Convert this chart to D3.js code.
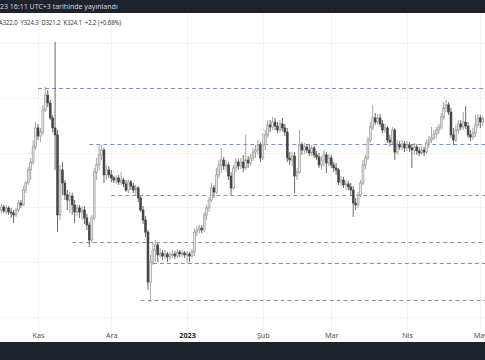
<!DOCTYPE html>
<html><head><meta charset="utf-8">
<script src="https://cdn.jsdelivr.net/npm/d3@7"></script>
<style>html,body{margin:0;padding:0;background:#fff;overflow:hidden}svg{display:block}</style>
</head><body>
<svg id="c" width="485" height="360"></svg>
<script>
// ---- data (BNB-like daily candles) ----
const startDate = Date.UTC(2022, 9, 17);
const open = [278.1,280.3,277.4,279.6,276.6,275.9,274.5,278.1,283.2,281.8,292.7,297.8,307.3,313.1,324.1,338.0,332.1,335.0,351.1,362.0,356.2,345.3,338.0,332.9,274.5,307.3,297.8,289.1,285.4,288.3,281.8,276.6,279.6,276.6,278.1,272.3,267.2,256.2,272.3,305.8,311.0,318.3,321.9,303.7,307.3,303.7,301.5,300.0,301.5,298.5,300.0,297.1,292.7,298.5,295.6,292.7,294.2,286.9,278.1,270.8,262.0,225.5,240.1,248.9,252.6,245.3,246.7,244.5,246.0,243.8,245.3,246.0,244.5,247.4,246.0,246.7,245.3,246.0,244.5,247.4,262.0,263.5,265.0,263.5,274.5,279.6,285.4,294.2,291.2,303.7,311.0,314.6,310.2,311.0,302.9,294.2,308.8,313.1,310.2,313.1,308.8,314.6,312.4,316.1,320.4,321.9,325.6,316.1,325.6,332.9,340.2,338.7,342.3,339.4,336.5,340.9,338.0,335.0,316.1,314.6,317.5,302.9,305.8,325.6,321.9,324.1,321.9,319.7,323.4,318.3,316.8,311.0,314.6,318.3,312.4,316.1,311.0,308.8,307.3,298.5,300.0,296.4,297.1,294.9,292.7,283.2,281.8,289.1,297.8,311.0,316.1,329.2,338.7,345.3,342.3,345.3,340.9,336.5,338.0,329.2,327.7,336.5,320.4,325.6,324.1,326.3,323.4,325.6,323.4,321.9,324.1,321.2,319.7,321.9,320.4,327.0,329.2,330.7,333.6,336.5,338.7,346.0,352.6,354.8,349.6,332.9,329.2,336.5,340.9,338.7,342.3,339.4,332.9,331.4,334.3,340.2,345.3,342.3];
const high = [282.5,281.8,281.8,281.0,279.6,278.1,279.6,285.4,285.4,295.6,299.3,309.5,316.1,329.2,342.3,340.9,338.0,354.8,367.9,365.7,358.4,347.5,400.7,336.5,311.0,313.1,300.0,292.7,291.2,290.5,285.4,281.8,281.8,281.0,281.0,275.2,269.3,274.5,308.8,316.1,325.6,325.6,323.4,311.0,310.2,307.3,302.9,303.7,303.7,305.8,301.5,300.0,300.0,300.0,297.8,296.4,295.6,288.3,281.0,273.7,263.5,245.3,254.0,256.2,254.0,250.4,248.9,248.9,247.4,247.4,248.9,248.2,249.6,248.9,248.9,248.2,248.2,247.4,249.6,264.2,266.4,267.2,267.2,276.6,281.8,287.6,297.8,296.4,308.8,314.6,323.4,316.8,314.6,313.1,305.8,311.0,316.1,315.3,316.1,318.3,332.9,317.5,319.0,323.4,325.6,329.2,327.7,334.3,336.5,343.8,343.8,346.0,345.3,342.3,343.8,345.3,340.9,338.0,320.4,320.4,320.4,308.8,336.5,327.7,327.0,326.3,325.6,325.6,324.8,321.2,319.7,317.5,321.9,320.4,319.0,318.3,313.1,312.4,308.8,302.9,302.2,300.0,299.3,297.8,295.6,286.9,291.2,300.0,314.6,318.3,331.4,342.3,354.8,348.9,348.2,348.2,343.8,340.9,339.4,332.9,338.7,338.0,329.2,328.5,329.2,328.5,328.5,327.7,326.3,327.0,326.3,324.1,324.8,324.1,329.2,332.1,338.7,336.5,338.7,340.9,348.9,356.9,358.4,356.9,352.6,338.0,340.2,343.8,343.8,349.6,354.0,342.3,336.5,338.0,347.5,348.2,347.5,346.7];
const low = [275.9,275.9,275.2,274.5,272.3,268.6,273.0,276.6,279.6,281.0,290.5,296.4,300.0,311.0,321.9,329.2,327.7,332.9,349.6,353.3,343.8,335.0,307.3,262.0,270.8,289.1,285.4,278.1,275.9,274.5,268.6,273.7,272.3,270.8,267.9,263.5,251.1,254.0,270.8,300.0,307.3,314.6,297.8,300.0,301.5,298.5,297.8,297.1,296.4,296.4,294.9,291.2,290.5,292.7,290.5,289.1,283.9,276.6,267.9,258.4,219.7,210.9,238.0,240.1,240.1,243.1,241.6,242.3,240.1,241.6,243.1,242.3,243.1,243.8,243.8,243.1,239.4,240.1,243.1,244.5,259.1,260.6,261.3,262.0,270.8,276.6,283.9,286.9,289.8,301.5,305.1,307.3,305.8,300.0,289.1,292.7,305.8,307.3,308.0,305.8,307.3,308.8,310.2,313.9,316.1,318.3,313.1,314.6,321.9,330.7,335.0,336.5,336.5,334.3,335.0,335.8,332.1,313.1,311.0,310.2,290.5,300.0,304.4,318.3,319.0,319.7,317.5,317.5,316.1,314.6,308.8,307.3,309.5,305.1,310.2,308.8,305.8,303.7,296.4,295.6,294.2,292.7,292.7,289.1,273.0,278.1,279.6,287.6,296.4,308.0,314.6,327.0,336.5,340.2,340.2,338.7,334.3,334.3,327.0,324.8,325.6,314.6,318.3,321.9,321.9,320.4,321.2,320.4,308.8,318.3,318.3,317.5,318.3,317.5,319.0,323.4,327.0,329.2,330.7,333.6,336.5,343.8,349.6,347.5,330.7,325.6,327.7,333.6,336.5,336.5,337.2,330.7,328.5,329.2,331.4,338.0,338.0,339.4];
const close = [280.3,277.4,279.6,276.6,275.9,274.5,278.1,283.2,281.8,292.7,297.8,307.3,313.1,324.1,338.0,332.1,335.0,351.1,362.0,356.2,345.3,338.0,332.9,274.5,307.3,297.8,289.1,285.4,288.3,281.8,276.6,279.6,276.6,278.1,272.3,267.2,256.2,272.3,305.8,311.0,318.3,321.9,303.7,307.3,303.7,301.5,300.0,301.5,298.5,300.0,297.1,292.7,298.5,295.6,292.7,294.2,286.9,278.1,270.8,262.0,225.5,240.1,248.9,252.6,245.3,246.7,244.5,246.0,243.8,245.3,246.0,244.5,247.4,246.0,246.7,245.3,246.0,244.5,247.4,262.0,263.5,265.0,263.5,274.5,279.6,285.4,294.2,291.2,303.7,311.0,314.6,310.2,311.0,302.9,294.2,308.8,313.1,310.2,313.1,308.8,314.6,312.4,316.1,320.4,321.9,325.6,316.1,325.6,332.9,340.2,338.7,342.3,339.4,336.5,340.9,338.0,335.0,316.1,314.6,317.5,302.9,305.8,325.6,321.9,324.1,321.9,319.7,323.4,318.3,316.8,311.0,314.6,318.3,312.4,316.1,311.0,308.8,307.3,298.5,300.0,296.4,297.1,294.9,292.7,283.2,281.8,289.1,297.8,311.0,316.1,329.2,338.7,345.3,342.3,345.3,340.9,336.5,338.0,329.2,327.7,336.5,320.4,325.6,324.1,326.3,323.4,325.6,323.4,321.9,324.1,321.2,319.7,321.9,320.4,327.0,329.2,330.7,333.6,336.5,338.7,346.0,352.6,354.8,349.6,332.9,329.2,336.5,340.9,338.7,342.3,339.4,332.9,331.4,334.3,340.2,345.3,342.3,344.5];

const monthTicks = [Date.UTC(2022,10,1),Date.UTC(2022,11,1),Date.UTC(2023,0,1),Date.UTC(2023,1,1),Date.UTC(2023,2,1),Date.UTC(2023,3,1),Date.UTC(2023,4,1)];
const monthLabels = ["Kas","Ara","2023","Şub","Mar","Nis","May"];
const priceTicks = [200,240,280,320,360,400];
const levelPrices = [367.2,326.3,289.0,254.7,239.4,212.4];
const levelStarts = [Date.UTC(2022,10,1),Date.UTC(2022,10,22),Date.UTC(2022,11,1),Date.UTC(2022,10,15),Date.UTC(2022,11,18),Date.UTC(2022,11,13)];
const headerText = "23 16:11 UTC+3 tarihinde yayınlandı";
const ohlcText = "A322.0  Y324.3  D321.2  K324.1  +2.2 (+0.68%)";

// ---- drawing ----
const W = 485, H = 360;
const svg = d3.select("#c");
const font = "'Noto Sans', 'Liberation Sans', sans-serif";

const x = d3.scaleUtc().domain([monthTicks[0], monthTicks[5]]).range([38, 407]);
const y = d3.scaleLinear().domain([200, 400]).range([317, 43]);

const candles = close.map((c, i) => ({
  date: d3.utcDay.offset(new Date(startDate), i),
  o: open[i], h: high[i], l: low[i], c: c
}));

svg.append("rect").attr("width", W).attr("height", H).attr("fill", "#fff");

// grid
const grid = svg.append("g");
grid.selectAll("line.v").data(monthTicks).join("line")
  .attr("x1", d => Math.round(x(d)) + 0.5).attr("x2", d => Math.round(x(d)) + 0.5)
  .attr("y1", 13).attr("y2", 342).attr("stroke", "#f1f3f7").attr("stroke-width", 1);
grid.selectAll("line.h").data(priceTicks).join("line")
  .attr("y1", d => Math.round(y(d)) + 0.5).attr("y2", d => Math.round(y(d)) + 0.5)
  .attr("x1", 0).attr("x2", W).attr("stroke", "#f1f3f7").attr("stroke-width", 1);

// horizontal dashed levels
svg.append("g").selectAll("line").data(levelPrices).join("line")
  .attr("x1", (d, i) => x(levelStarts[i])).attr("x2", W)
  .attr("y1", d => Math.round(y(d)) + 0.5).attr("y2", d => Math.round(y(d)) + 0.5)
  .attr("stroke", "#7d92c8").attr("stroke-width", 1).attr("stroke-dasharray", "4,3");

// candles
const bw = 1.9;
const cg = svg.append("g");
const up = d => d.c >= d.o;
cg.selectAll("line.w").data(candles).join("line")
  .attr("x1", d => x(d.date)).attr("x2", d => x(d.date))
  .attr("y1", d => y(d.h)).attr("y2", d => y(d.l))
  .attr("stroke", d => up(d) ? "#8f8f8f" : "#444").attr("stroke-width", 0.8);
cg.selectAll("rect").data(candles).join("rect")
  .attr("x", d => x(d.date) - bw / 2)
  .attr("y", d => y(Math.max(d.o, d.c)))
  .attr("width", bw)
  .attr("height", d => Math.max(0.8, Math.abs(y(d.o) - y(d.c))))
  .attr("fill", d => up(d) ? "#e6e6e6" : "#444")
  .attr("stroke", d => up(d) ? "#8f8f8f" : "#444").attr("stroke-width", 0.6);

// x axis labels
const ax = d3.axisBottom(x).tickValues(monthTicks).tickSize(0)
  .tickFormat((d, i) => monthLabels[i]);
const axg = svg.append("g").attr("transform", "translate(0,335)").call(ax);
axg.select(".domain").remove();
axg.selectAll("text").attr("font-family", font).attr("font-size", 7.2)
  .attr("dy", "0.35em").attr("y", 0)
  .attr("font-weight", (d, i) => monthLabels[i] === "2023" ? "bold" : null)
  .attr("fill", (d, i) => monthLabels[i] === "2023" ? "#222" : "#555");

// top bar
svg.append("rect").attr("x", 0).attr("y", 0).attr("width", W).attr("height", 13).attr("fill", "#1e222d");
svg.append("text").attr("x", 0).attr("y", 9).attr("font-family", font).attr("font-size", 7)
  .attr("fill", "#d1d4dc").text(headerText);
svg.append("text").attr("x", -1).attr("y", 24.5).attr("font-family", font).attr("font-size", 7)
  .attr("fill", "#333").style("white-space", "pre")
  .attr("textLength", 122).attr("lengthAdjust", "spacingAndGlyphs").text(ohlcText);

// bottom bar
svg.append("rect").attr("x", 0).attr("y", 342).attr("width", W).attr("height", 18).attr("fill", "#1e222d");
</script>
</body></html>
